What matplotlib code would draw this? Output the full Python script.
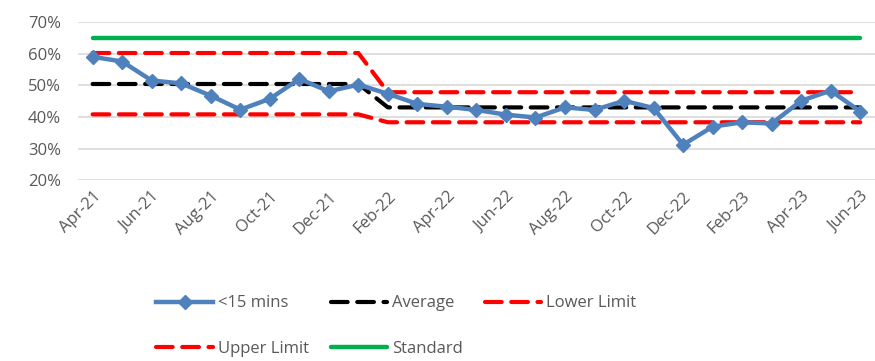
import matplotlib.pyplot as plt

months = ["Apr-21", "May-21", "Jun-21", "Jul-21", "Aug-21", "Sep-21", "Oct-21", "Nov-21", "Dec-21",
          "Jan-22", "Feb-22", "Mar-22", "Apr-22", "May-22", "Jun-22", "Jul-22", "Aug-22", "Sep-22",
          "Oct-22", "Nov-22", "Dec-22", "Jan-23", "Feb-23", "Mar-23", "Apr-23", "May-23", "Jun-23"]

under_15 = [59.0, 57.5, 51.5, 50.6, 46.7, 42.3, 45.7, 52.0, 48.1, 50.2, 47.3, 44.1, 43.2, 42.2,
            40.7, 39.8, 43.0, 42.2, 45.1, 42.8, 31.2, 36.9, 38.3, 37.9, 45.1, 48.3, 41.7]
average = [50.4] * 10 + [43.0] * 17
lower_limit = [40.8] * 10 + [38.3] * 17
upper_limit = [60.2] * 10 + [47.8] * 17
standard = [65.0] * 27

plt.rcParams['font.family'] = ['Open Sans', 'DejaVu Sans']

fig = plt.figure(figsize=(8.75, 3.61), dpi=100)
ax = fig.add_axes([0.089, 0.501, 0.911, 0.438])

x = list(range(len(months)))
dash = dict(linestyle=(0, (4, 2.3)), dash_capstyle='round', lw=3)

ax.plot(x, standard, color='#00B050', lw=3.2, solid_capstyle='round', label='Standard', zorder=2)
ax.plot(x, upper_limit, color='#FF0000', label='Upper Limit', zorder=3, **dash)
ax.plot(x, lower_limit, color='#FF0000', label='Lower Limit', zorder=3, **dash)
ax.plot(x, average, color='black', label='Average', zorder=3, **dash)
ax.plot(x, under_15, color='#4F81BD', lw=3.2, marker='D', markersize=7,
        label='<15 mins', zorder=4)

ax.set_xlim(-0.5, len(months) - 0.5)
ax.set_ylim(20, 70)
ax.set_yticks(range(20, 71, 10))
ax.set_yticklabels([f"{v}%" for v in range(20, 71, 10)])
ax.set_xticks(x[::2])
ax.set_xticklabels(months[::2], rotation=45, ha='right', rotation_mode='anchor')
ax.tick_params(axis='both', length=0, labelsize=12, colors='#595959')
ax.tick_params(axis='x', pad=6)
ax.tick_params(axis='y', pad=12)
ax.grid(axis='y', color='#D9D9D9', lw=1.2)
ax.set_axisbelow(True)
for s in ax.spines.values():
    s.set_visible(False)

h, l = ax.get_legend_handles_labels()
d = dict(zip(l, h))
order = ['<15 mins', 'Upper Limit', 'Average', 'Standard', 'Lower Limit']
fig.legend([d[k] for k in order], order, loc='center', bbox_to_anchor=(0.453, 0.097),
           ncol=3, frameon=False, fontsize=12, labelcolor='#595959',
           handlelength=3.4, handletextpad=0.3, columnspacing=1.3, labelspacing=1.75)

fig.savefig('out.png', dpi=100)
